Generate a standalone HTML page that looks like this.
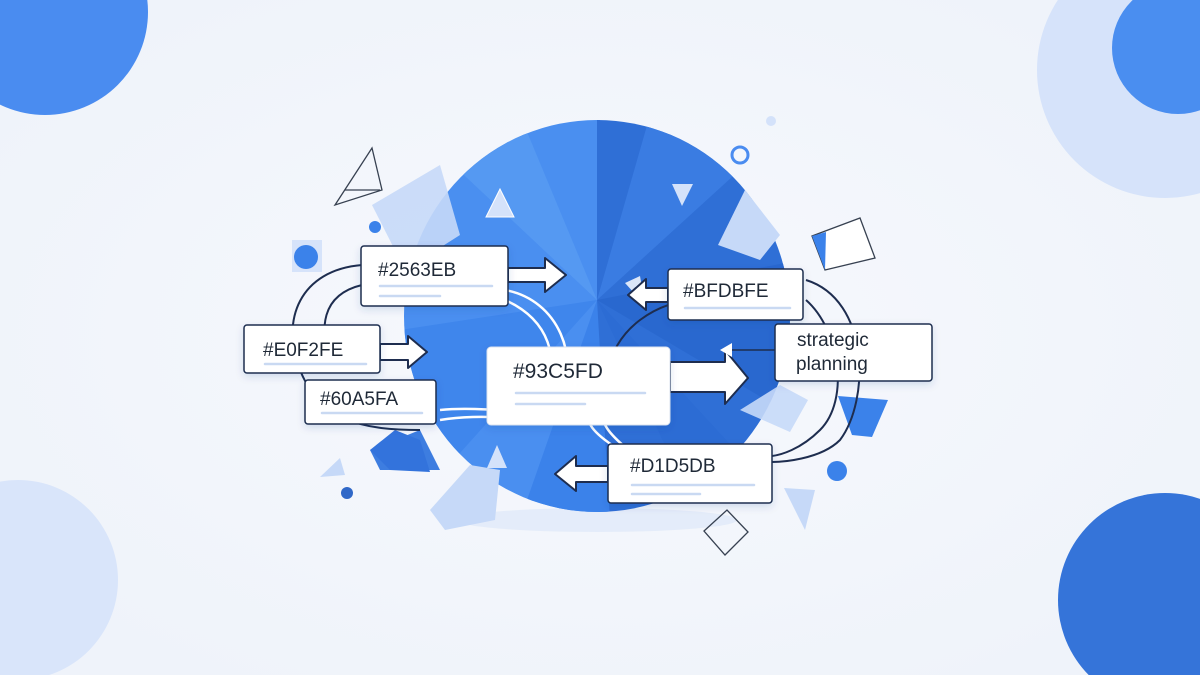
<!DOCTYPE html>
<html><head><meta charset="utf-8"><style>
html,body{margin:0;padding:0;background:#f3f6fb;}
svg{display:block}
text{font-family:"Liberation Sans",sans-serif;fill:#1f2937}
</style></head><body>
<svg width="1200" height="675" viewBox="0 0 1200 675" xmlns="http://www.w3.org/2000/svg">
<defs>
<radialGradient id="bg" cx="0.5" cy="0.5" r="0.6"><stop offset="0" stop-color="#f7f9fd"/><stop offset="1" stop-color="#eff3fa"/></radialGradient>
<filter id="sh" x="-20%" y="-20%" width="140%" height="160%"><feDropShadow dx="0" dy="3" stdDeviation="4" flood-color="#1e3a8a" flood-opacity="0.15"/></filter>
</defs>
<rect width="1200" height="675" fill="url(#bg)"/>
<!-- corner circles -->
<circle cx="45" cy="12" r="103" fill="#4a8cf0"/>
<circle cx="1165" cy="70" r="128" fill="#d6e3fa"/>
<circle cx="1178" cy="48" r="66" fill="#4a8ef0"/>
<circle cx="18" cy="580" r="100" fill="#d9e5fa"/>
<circle cx="1165" cy="600" r="107" fill="#3574d9"/>
<ellipse cx="597" cy="520" rx="140" ry="12" fill="#dbe6f8" opacity="0.6"/>
<!-- big pie -->
<g>
<clipPath id="cp"><ellipse cx="597" cy="316" rx="193" ry="196"/></clipPath>
<g clip-path="url(#cp)">
<rect x="400" y="115" width="200" height="400" fill="#4a8ff0"/>
<rect x="597" y="115" width="200" height="400" fill="#2f6fd6"/>
<polygon points="597,300 400,115 520,115" fill="#5599f2"/>
<polygon points="597,300 650,115 800,115" fill="#3a7ce2"/>
<polygon points="597,300 800,260 800,420" fill="#2968cf"/>
<polygon points="597,300 400,330 400,520" fill="#3f86ec"/>
<polygon points="597,300 520,520 610,520" fill="#3b82ea"/>
<polygon points="597,300 700,520 800,520" fill="#2c6cd4"/>
</g>
</g>
<!-- decorative shapes -->
<polygon points="372,205 440,165 460,235 405,270" fill="#c6d9f8" opacity="0.9"/>
<polygon points="335,205 372,148 382,190" fill="none" stroke="#374151" stroke-width="1.3"/>
<line x1="345" y1="190" x2="380" y2="190" stroke="#374151" stroke-width="1.2"/>
<polygon points="486,217 500,189 514,217" fill="#d4e2fa" stroke="#fff" stroke-width="1"/>
<polygon points="672,184 693,184 682,206" fill="#d4e2fa"/>
<circle cx="740" cy="155" r="8" fill="none" stroke="#4a8cf0" stroke-width="3"/>
<circle cx="771" cy="121" r="5" fill="#d4e2fa"/>
<polygon points="718,245 745,190 780,235 760,260" fill="#c6d9f8"/>
<polygon points="812,236 860,218 875,258 825,270" fill="#fff" stroke="#374151" stroke-width="1.3"/>
<polygon points="812,236 826,232 825,270" fill="#3b82ea"/>
<rect x="292" y="240" width="30" height="32" fill="#d6e3fa"/>
<circle cx="306" cy="257" r="12" fill="#3b82ea"/>
<circle cx="375" cy="227" r="6" fill="#3b82ea"/>
<polygon points="370,450 420,430 440,470 380,470" fill="#3d7de0"/>
<polygon points="370,450 395,430 420,440 430,472 390,470" fill="#3373dc"/>
<polygon points="320,477 340,458 345,475" fill="#c6d9f8"/>
<circle cx="347" cy="493" r="6" fill="#3068c8"/>
<polygon points="430,510 470,465 500,470 495,520 445,530" fill="#c6d9f8"/>
<polygon points="487,468 497,445 507,468" fill="#d4e2fa"/>
<polygon points="838,396 888,400 872,437 852,435" fill="#3b82ea"/>
<polygon points="740,410 780,385 808,400 790,432" fill="#c6d9f8" opacity="0.9"/>
<circle cx="837" cy="471" r="10" fill="#3b82ea"/>
<polygon points="784,488 815,490 805,530" fill="#c6d9f8"/>
<polygon points="704,531 727,510 748,532 725,555" fill="none" stroke="#374151" stroke-width="1.3"/>
<polygon points="625,283 640,276 645,305" fill="#dbe6f8"/>
<!-- loops -->
<g fill="none" stroke="#1e2d4f" stroke-width="2">
<path d="M362,265 C300,270 280,320 300,370 C320,420 360,430 420,430"/>
<path d="M362,285 C320,295 320,330 330,360"/>
<path d="M806,280 C870,300 870,400 840,440 C820,460 780,462 772,462"/>
<path d="M806,300 C840,330 850,400 820,430 C800,450 780,455 772,456"/>
<path d="M620,420 C600,400 600,350 640,320 C660,305 680,300 700,300"/>
</g>
<g fill="none" stroke="#ffffff" stroke-width="2.5">
<path d="M505,290 C560,300 580,360 560,400 C545,430 500,410 440,420"/>
<path d="M505,300 C550,320 560,360 545,395 C535,420 490,405 440,410"/>
<path d="M612,445 C590,430 585,420 590,410"/>
<path d="M625,447 C605,430 600,420 605,410"/>
</g>
<!-- arrows -->
<g fill="#fff" stroke="#1e2d4f" stroke-width="2" stroke-linejoin="round">
<polygon points="508,268 545,268 545,258 566,275 545,292 545,282 508,282"/>
<polygon points="380,344 408,344 408,336 427,352 408,368 408,360 380,360"/>
<polygon points="670,362 725,362 725,350 748,378 725,404 725,392 670,392"/>
<polygon points="668,288 646,288 646,279 628,295 646,310 646,302 668,302"/>
<polygon points="608,466 576,466 576,456 555,474 576,491 576,482 608,482"/>
</g>
<line x1="776" y1="350" x2="730" y2="350" stroke="#1e2d4f" stroke-width="1.5"/>
<polygon points="720,350 732,343 732,357" fill="#fff"/>
<!-- boxes -->
<g filter="url(#sh)" fill="#fff" stroke="#1e2d4f" stroke-width="1.5">
<rect x="361" y="246" width="147" height="60" rx="3"/>
<rect x="244" y="325" width="136" height="48" rx="3"/>
<rect x="305" y="380" width="131" height="44" rx="3"/>
<rect x="668" y="269" width="135" height="51" rx="3"/>
<rect x="775" y="324" width="157" height="57" rx="3"/>
<rect x="608" y="444" width="164" height="59" rx="3"/>
</g>
<rect x="487" y="347" width="183" height="78" rx="4" fill="#fff" stroke="#dbe3ef" stroke-width="1" filter="url(#sh)"/>
<g font-size="19">
<text x="378" y="276">#2563EB</text>
<text x="263" y="356">#E0F2FE</text>
<text x="320" y="405">#60A5FA</text>
<text x="513" y="378" font-size="21">#93C5FD</text>
<text x="683" y="297">#BFDBFE</text>
<text x="630" y="472">#D1D5DB</text>
<text x="797" y="346">strategic</text>
<text x="796" y="370">planning</text>
</g>
<g stroke="#c9d9f2" stroke-width="2.5" stroke-linecap="round">
<line x1="380" y1="286" x2="492" y2="286"/><line x1="380" y1="296" x2="440" y2="296"/>
<line x1="265" y1="364" x2="366" y2="364"/>
<line x1="322" y1="413" x2="422" y2="413"/>
<line x1="516" y1="393" x2="645" y2="393"/><line x1="516" y1="404" x2="585" y2="404"/>
<line x1="685" y1="308" x2="790" y2="308"/>
<line x1="632" y1="485" x2="754" y2="485"/><line x1="632" y1="494" x2="700" y2="494"/>
</g>
</svg>
</body></html>
